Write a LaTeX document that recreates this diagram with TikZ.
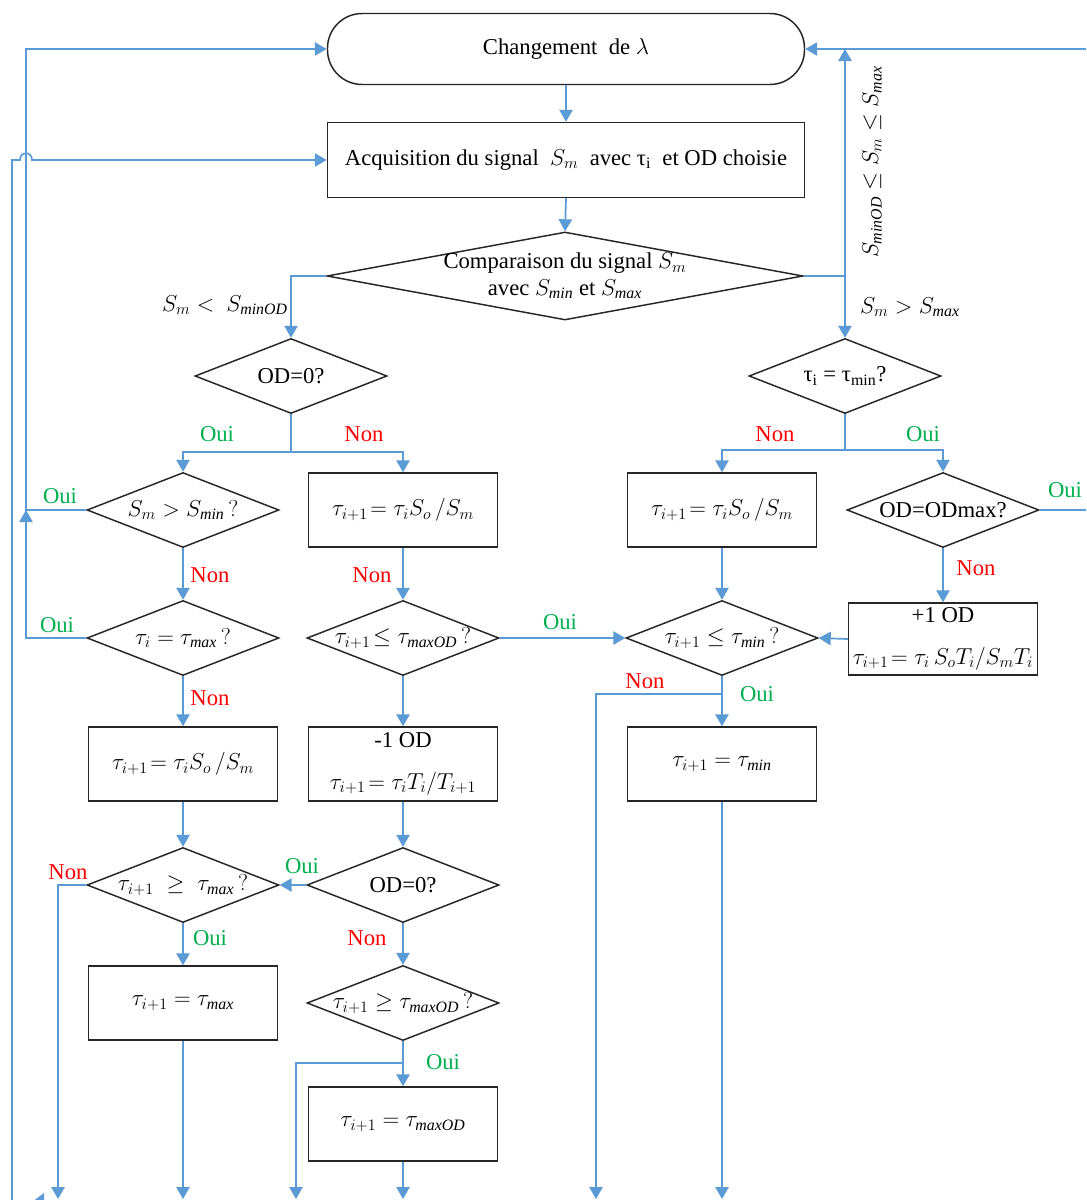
\documentclass[tikz,border=0pt]{standalone}
\usepackage{fontspec}
\setmainfont{Liberation Serif}
\usetikzlibrary{arrows.meta,shapes.geometric,calc}
\definecolor{lnblue}{RGB}{91,155,213}
\definecolor{ouig}{RGB}{0,176,80}
\definecolor{nonr}{RGB}{255,0,0}
\newcommand\myfs{\fontsize{17}{20}\selectfont}
\tikzset{
  term/.style={draw=black!85, line width=1.1pt, fill=white, rounded corners=26pt,
    minimum width=357.75pt, minimum height=53.25pt, inner sep=2pt},
  box/.style={draw=black!85, line width=1.1pt, fill=white, minimum width=141.75pt,
    minimum height=55.5pt, inner sep=2pt, align=center},
  dia/.style={diamond, draw=black!85, line width=1.1pt, fill=white, minimum width=144pt,
    minimum height=56.25pt, inner sep=0pt},
  ar/.style={draw=lnblue, line width=1.3pt, -{Triangle[length=9pt,width=10pt]}},
  oui/.style={text=ouig, inner sep=1pt},
  non/.style={text=nonr, inner sep=1pt},
}
\begin{document}
\begin{tikzpicture}[x=0.75pt,y=-0.75pt,font=\myfs]
\useasboundingbox (0,0) rectangle (1086,1200);
\clip (0,0) rectangle (1086,1200);
\fill[white] (0,0) rectangle (1086,1200);

% ---------- nodes ----------
\node[term] (term) at (566,49) {Changement~~de $\lambda$};
\node[box, minimum width=357.75pt, minimum height=56.25pt] (acq) at (566,160)
  {Acquisition du signal~~$S_m$~~avec τ\textsubscript{i}~~et OD choisie};
\node[dia, minimum width=357pt, minimum height=66pt,
  label={[align=center]center:{Comparaison du signal $S_m$\\avec $S_{\mathit{min}}$ et $S_{\mathit{max}}$}}] (comp) at (565,276) {};

\node[dia, label=center:{OD=0?}] (od1) at (291,376) {};
\node[dia, label=center:{τ\textsubscript{i} = τ\textsubscript{min}?}] (tmin) at (845,376) {};

\node[dia, label=center:{$S_m > S_{\mathit{min}}\,?$}] (smin) at (183,510) {};
\node[box] (b1) at (403,510) {$\tau_{i+1}\!= \tau_i S_o\,/S_m$};
\node[box] (b2) at (722,510) {$\tau_{i+1}\!= \tau_i S_o\,/S_m$};
\node[dia, label=center:{OD=ODmax?}] (odmax) at (943,510) {};

\node[dia, label=center:{$\tau_i = \tau_{\mathit{max}}\,?$}] (tmax) at (183,638) {};
\node[dia, label=center:{$\tau_{i+1}\!\leq \tau_{\mathit{maxOD}}\,?$}] (tmod) at (403,638) {};
\node[dia, label=center:{$\tau_{i+1} \leq \tau_{\mathit{min}}\,?$}] (tmn) at (722,638) {};
\node[box, minimum height=54pt] (b7) at (943,639)
  {+1 OD\\[11pt]$\tau_{i+1}\!= \tau_i\, S_oT_i/S_mT_i$};

\node[box] (b3) at (183,764) {$\tau_{i+1}\!= \tau_i S_o\,/S_m$};
\node[box] (b5) at (403,764) {-1 OD\\[11pt]$\tau_{i+1}\!= \tau_i T_i/T_{i+1}$};
\node[box] (b8) at (722,764) {$\tau_{i+1} = \tau_{\mathit{min}}$};

\node[dia, label=center:{$\tau_{i+1} \;\geq\; \tau_{\mathit{max}}\,?$}] (tmx2) at (183,885) {};
\node[dia, label=center:{OD=0?}] (od2) at (403,885) {};

\node[box] (b4) at (183,1003) {$\tau_{i+1} = \tau_{\mathit{max}}$};
\node[dia, label=center:{$\tau_{i+1} \geq \tau_{\mathit{maxOD}}\,?$}] (tmod2) at (403,1003) {};
\node[box] (b6) at (403,1124) {$\tau_{i+1} = \tau_{\mathit{maxOD}}$};

% ---------- free ends ----------
\coordinate (lx) at (26,0);
\coordinate (llb) at (12,1200);
\coordinate (rtop) at (1086,49);
\coordinate (rmid) at (1086,510);
\coordinate (e58) at (58,1199);
\coordinate (e183) at (183,1199);
\coordinate (e296) at (296,1199);
\coordinate (e403) at (403,1199);
\coordinate (e596) at (596,1199);
\coordinate (e722) at (722,1199);

% ---------- connectors ----------
\draw[ar] (term.south) -- (acq.north);
\draw[ar] (acq.south) -- (comp.north);
\draw[ar] (comp.west) -| (od1.north);
\draw[ar] (comp.east) -| (tmin.north);
\draw[ar] (comp.east -| tmin.north) -- (tmin.north |- term.east);
\draw[ar] (rtop) -- (term.east);

\draw[ar] (od1.south) -- ++(0,38) -| (smin.north);
\draw[ar] (od1.south) -- ++(0,38) -| (b1.north);
\draw[ar] (tmin.south) -- ++(0,36) -| (b2.north);
\draw[ar] (tmin.south) -- ++(0,36) -| (odmax.north);

\draw[ar] (smin.west) -| (lx |- term.west) -- (term.west);
\draw[ar] (tmax.west) -| (lx |- smin.west);
\draw[ar] (llb) -- (llb |- acq.west) -- ($(lx |- acq.west)+(-6,0)$)
  .. controls ($(lx |- acq.west)+(-6,-9)$) and ($(lx |- acq.west)+(6,-9)$) ..
  ($(lx |- acq.west)+(6,0)$) -- (acq.west);

\draw[ar] (smin.south) -- (tmax.north);
\draw[ar] (tmax.south) -- (b3.north);
\draw[ar] (b3.south) -- (tmx2.north);
\draw[ar] (tmx2.west) -| (e58);
\draw[ar] (tmx2.south) -- (b4.north);
\draw[ar] (b4.south) -- (e183);

\draw[ar] (b1.south) -- (tmod.north);
\draw[ar] (tmod.east) -- (tmn.west);
\draw[ar] (tmod.south) -- (b5.north);
\draw[ar] (b5.south) -- (od2.north);
\draw[ar] (od2.west) -- (tmx2.east);
\draw[ar] (od2.south) -- (tmod2.north);
\draw[ar] (tmod2.south) -- (b6.north);
\draw[ar] (tmod2.south) -- ++(0,22) -| (e296);
\draw[ar] (b6.south) -- (e403);

\draw[ar] (b2.south) -- (tmn.north);
\draw[ar] (odmax.south) -- (b7.north);
\draw[ar] (b7.west) -- (tmn.east);
\draw[ar, -] (odmax.east) -- (rmid);
\draw[ar] (tmn.south) -- (b8.north);
\draw[ar] (tmn.south) -- ++(0,18) -| (e596);
\draw[ar] (b8.south) -- (e722);

\fill[lnblue] (28,1205) -- (44,1193) -- (44,1217) -- cycle;

% ---------- labels ----------
\node (lsm1) at (225,305) {$S_m <\ S_{\mathit{minOD}}$};
\node (lsm2) at (910,307) {$S_m > S_{\mathit{max}}$};
\node[rotate=90] (lsm3) at (872,162) {$S_{\mathit{minOD}} \leq S_m \leq S_{\mathit{max}}$};

\node[oui] (o1) at (217,434) {Oui};
\node[non] (n1) at (364,434) {Non};
\node[non] (n2) at (775,434) {Non};
\node[oui] (o2) at (923,434) {Oui};
\node[oui] (o3) at (1065,490) {Oui};
\node[oui] (o4) at (60,496) {Oui};
\node[non] (n3) at (210,575) {Non};
\node[non] (n4) at (372,575) {Non};
\node[oui] (o5) at (57,625) {Oui};
\node[oui] (o6) at (560,622) {Oui};
\node[non] (n5) at (976,568) {Non};
\node[non] (n6) at (210,698) {Non};
\node[non] (n7) at (645,681) {Non};
\node[oui] (o7) at (757,694) {Oui};
\node[non] (n8) at (68,872) {Non};
\node[oui] (o8) at (302,866) {Oui};
\node[oui] (o9) at (210,938) {Oui};
\node[non] (n9) at (367,938) {Non};
\node[oui] (o10) at (443,1062) {Oui};
\end{tikzpicture}
\end{document}
